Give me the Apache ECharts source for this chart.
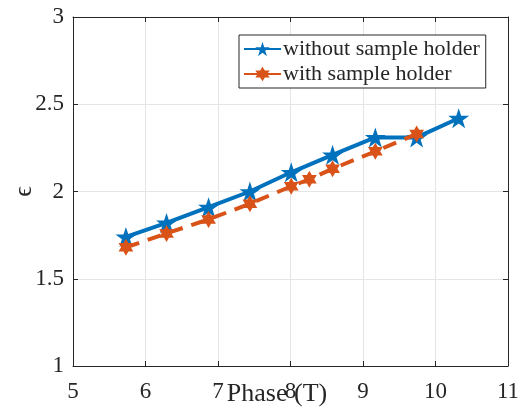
<!DOCTYPE html>
<html><head><meta charset="utf-8">
<script src="https://cdn.jsdelivr.net/npm/echarts@6/dist/echarts.min.js"></script>
<style>html,body{margin:0;padding:0;background:#fff}#c{width:524px;height:412px}</style>
</head><body><div id="c"></div>
<script>
const xWithout = [5.73, 6.29, 6.87, 7.44, 8.01, 8.58, 9.17, 9.74, 10.32];
const yWithout = [1.74, 1.82, 1.91, 2.00, 2.11, 2.21, 2.31, 2.31, 2.42];
const xWith = [5.73, 6.29, 6.87, 7.44, 8.01, 8.26, 8.58, 9.17, 9.74];
const yWith = [1.68, 1.76, 1.84, 1.93, 2.03, 2.07, 2.13, 2.23, 2.33];
const seriesNames = ['without sample holder', 'with sample holder'];
const xTicks = [5, 6, 7, 8, 9, 10, 11];
const yTicks = [1, 1.5, 2, 2.5, 3];

const pentagram = 'path://M0,-10 L2.245,-3.09 L9.511,-3.09 L3.633,1.18 L5.878,8.09 L0,3.82 L-5.878,8.09 L-3.633,1.18 L-9.511,-3.09 L-2.245,-3.09 Z';
const hexagram = 'path://M0,-10 L2.887,-5 L8.66,-5 L5.774,0 L8.66,5 L2.887,5 L0,10 L-2.887,5 L-8.66,5 L-5.774,0 L-8.66,-5 L-2.887,-5 Z';
const font = 'Liberation Serif';
const axisCol = '#262626';

const chart = echarts.init(document.getElementById('c'), null, {renderer: 'canvas'});
const xAxisBase = {
  type: 'value', min: xTicks[0], max: xTicks[xTicks.length - 1], interval: 1,
  axisLine: {show: true, onZero: false, lineStyle: {color: axisCol, width: 1}},
  axisTick: {show: true, inside: true, length: 5, lineStyle: {color: axisCol}},
  splitLine: {show: false}
};
const yAxisBase = {
  type: 'value', min: yTicks[0], max: yTicks[yTicks.length - 1], interval: 0.5,
  axisLine: {show: true, onZero: false, lineStyle: {color: axisCol, width: 1}},
  axisTick: {show: true, inside: true, length: 5, lineStyle: {color: axisCol}},
  splitLine: {show: false}
};
chart.setOption({
  backgroundColor: '#fff',
  animation: false,
  textStyle: {fontFamily: font},
  grid: {left: 73, right: 16, top: 17, bottom: 46, containLabel: false, outerBoundsMode: 'none'},
  legend: {
    orient: 'vertical', left: 239, top: 35, width: 248,
    padding: [3, 6, 3, 4], itemGap: 3,
    backgroundColor: '#fff', borderColor: axisCol, borderWidth: 1,
    itemWidth: 37, itemHeight: 18,
    textStyle: {fontFamily: font, fontSize: 22, color: axisCol, padding: [0, 0, 0, -3]},
    data: seriesNames
  },
  xAxis: [
    Object.assign({}, xAxisBase, {
      position: 'bottom',
      name: 'Phase (T)', nameLocation: 'middle', nameGap: 15, nameMoveOverlap: false,
      nameTextStyle: {fontFamily: font, fontSize: 26, color: axisCol, padding: [0, 27, 0, 0]},
      axisLabel: {fontFamily: font, fontSize: 23, color: axisCol, margin: 14},
      splitLine: {show: true, lineStyle: {color: '#e5e5e5', width: 1}}
    }),
    Object.assign({}, xAxisBase, {position: 'top', axisLabel: {show: false}})
  ],
  yAxis: [
    Object.assign({}, yAxisBase, {
      position: 'left',
      name: '\u03f5', nameLocation: 'middle', nameGap: 36, nameRotate: 90, nameMoveOverlap: false,
      nameTextStyle: {fontFamily: font, fontSize: 26, color: axisCol},
      axisLabel: {fontFamily: font, fontSize: 23, color: axisCol, margin: 9,
        formatter: v => String(v)},
      splitLine: {show: true, lineStyle: {color: '#e5e5e5', width: 1}}
    }),
    Object.assign({}, yAxisBase, {position: 'right', axisLabel: {show: false}})
  ],
  series: [
    {
      name: seriesNames[0], type: 'line', xAxisIndex: 0, yAxisIndex: 0,
      data: xWithout.map((x, i) => [x, yWithout[i]]),
      lineStyle: {color: '#0072BD', width: 4},
      itemStyle: {color: '#0072BD'},
      symbol: pentagram, symbolSize: 21, symbolKeepAspect: true, showSymbol: true,
      z: 2
    },
    {
      name: seriesNames[1], type: 'line', xAxisIndex: 0, yAxisIndex: 0,
      data: xWith.map((x, i) => [x, yWith[i]]),
      lineStyle: {color: '#D95319', width: 4, type: [14, 9]},
      itemStyle: {color: '#D95319'},
      symbol: hexagram, symbolSize: 17, symbolKeepAspect: true, showSymbol: true,
      z: 3
    }
  ]
});
</script></body></html>
